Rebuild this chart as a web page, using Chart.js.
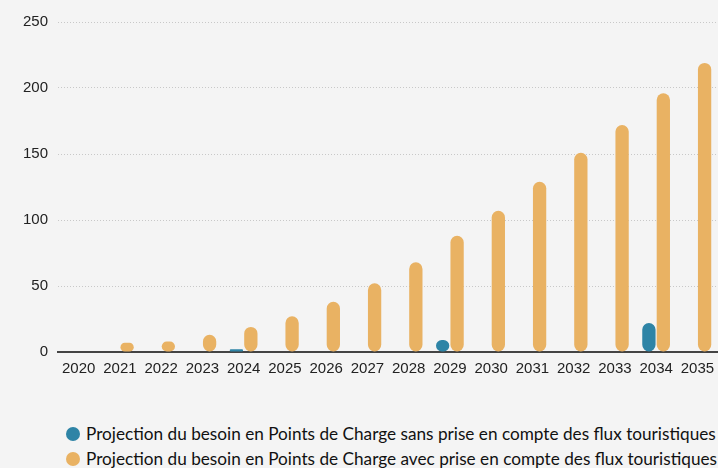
<!DOCTYPE html>
<html><head><meta charset="utf-8">
<script src="https://cdn.jsdelivr.net/npm/chart.js@4/dist/chart.umd.min.js"></script>
<style>
html,body{margin:0;padding:0;background:#f4f4f4;}
#wrap{position:relative;width:718px;height:468px;background:#f4f4f4;}
#c{position:absolute;left:0;top:3px;}
.leg{position:absolute;left:66px;font-family:Lato,"Open Sans",sans-serif;font-size:17.2px;line-height:20px;color:#111;white-space:nowrap;}
.leg span.dot{display:inline-block;width:14px;height:14px;border-radius:50%;margin-right:6px;vertical-align:-1px;}
</style></head>
<body>
<div id="wrap">
<canvas id="c" width="718" height="377"></canvas>
<div class="leg" id="l1" style="top:424px"><span class="dot" style="background:#2e84a6"></span><span id="t1"></span></div>
<div class="leg" id="l2" style="top:449px"><span class="dot" style="background:#e9b263"></span><span id="t2"></span></div>
</div>
<script>
const years = ["2020","2021","2022","2023","2024","2025","2026","2027","2028","2029","2030","2031","2032","2033","2034","2035"];
const sansFlux = [null,null,null,null,2,null,null,null,null,9,null,null,null,null,22,null];
const avecFlux = [null,7,8,13,19,27,38,52,68,88,107,129,151,172,196,219];
const seriesNames = ["Projection du besoin en Points de Charge sans prise en compte des flux touristiques","Projection du besoin en Points de Charge avec prise en compte des flux touristiques"];
const yTicks = [0,50,100,150,200,250];

document.getElementById('t1').textContent = seriesNames[0];
document.getElementById('t2').textContent = seriesNames[1];

const tickFont = {family: '"Liberation Sans",Arial,sans-serif', size: 15};

new Chart(document.getElementById('c'), {
  type: 'bar',
  data: {
    labels: years,
    datasets: [
      {label: seriesNames[0], data: sansFlux, backgroundColor: '#2e84a6', borderRadius: 20, borderSkipped: false},
      {label: seriesNames[1], data: avecFlux, backgroundColor: '#e9b263', borderRadius: 20, borderSkipped: false}
    ]
  },
  options: {
    responsive: false,
    animation: false,
    events: [],
    datasets: {bar: {categoryPercentage: 0.7, barPercentage: 0.92, skipNull: false}},
    layout: {padding: {top: 16, right: 0, left: 0, bottom: 2}},
    plugins: {legend: {display: false}, tooltip: {enabled: false}},
    scales: {
      x: {
        grid: {display: false},
        border: {color: '#444', width: 2},
        ticks: {color: '#222', font: tickFont, padding: 0, maxRotation: 0, autoSkip: false}
      },
      y: {
        min: 0, max: 250,
        afterBuildTicks: ax => { ax.ticks = yTicks.map(v => ({value: v})); },
        afterFit: ax => { ax.width = 58; },
        border: {display: false, dash: [1,2]},
        grid: {color: '#c8c8c8', lineWidth: 1, drawTicks: false},
        ticks: {color: '#222', font: tickFont, padding: 10}
      }
    }
  }
});
</script>
</body></html>
